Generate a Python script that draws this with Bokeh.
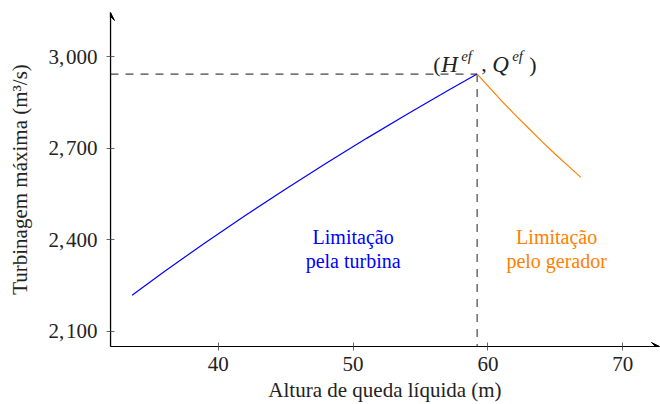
from bokeh.plotting import figure
from bokeh.models import (Label, Arrow, VeeHead, FixedTicker, Range1d)
from bokeh.embed import file_html
from bokeh.resources import INLINE

# Turbine-limited branch: maximum discharge vs net head
head_turbine = [33.6, 36.0, 39.0, 42.0, 45.0, 48.0, 51.0, 54.0, 57.0, 59.2]
flow_turbine = [2218, 2296, 2390, 2480, 2567, 2651, 2733, 2812, 2889, 2944]

# Generator-limited branch
head_generator = [59.2, 61.0, 62.0, 63.0, 64.0, 65.0, 66.0, 66.9]
flow_generator = [2944, 2857, 2811, 2767, 2723, 2681, 2641, 2605]

# Effective (design) point
h_ef = 59.2
q_ef = 2944

x_ticks = [40, 50, 60, 70]
y_ticks = [2100, 2400, 2700, 3000]

x_min, x_max = 32.0, 72.73
y_min, y_max = 2050.0, 3146.0

SERIF = "Liberation Serif"
BLUE = "#0000ff"
ORANGE = "#ff8000"
INK = "#222222"

p = figure(width=660, height=404, output_backend="svg", toolbar_location=None,
           x_range=Range1d(x_min, x_max), y_range=Range1d(y_min, y_max),
           min_border_left=110, min_border_right=1, min_border_top=12,
           min_border_bottom=58)
p.outline_line_color = None
p.grid.visible = False
p.background_fill_color = "white"
p.border_fill_color = "white"

# axes
p.xaxis.ticker = FixedTicker(ticks=x_ticks)
p.yaxis.ticker = FixedTicker(ticks=y_ticks)
# thousands separator followed by a hair space, as in math-mode numbers
p.yaxis.major_label_overrides = {t: f"{t:,}".replace(",", ",\u200a") for t in y_ticks}
for ax in (p.xaxis[0], p.yaxis[0]):
    ax.axis_line_color = "black"
    ax.axis_line_width = 1.2
    ax.major_tick_line_color = "#666666"
    ax.major_tick_in = 4
    ax.major_tick_out = 4
    ax.minor_tick_line_color = None
    ax.major_label_text_font = SERIF
    ax.major_label_text_font_size = "21px"
    ax.major_label_text_color = INK
    ax.axis_label_text_font = SERIF
    ax.axis_label_text_font_size = "21px"
    ax.axis_label_text_font_style = "normal"
    ax.axis_label_text_color = INK
p.xaxis.major_label_standoff = 6
p.yaxis.major_label_standoff = 9
p.xaxis.axis_label = "Altura de queda líquida (m)"
p.xaxis.axis_label_standoff = 4
p.yaxis.axis_label = "Turbinagem máxima (m³/s)"
p.yaxis.axis_label_standoff = 13

# axis arrow heads
p.add_layout(Arrow(end=VeeHead(size=8, fill_color="black", line_color="black"),
                   x_start=x_min, y_start=y_min, x_end=x_max, y_end=y_min,
                   line_color="black", line_width=1.2))
p.add_layout(Arrow(end=VeeHead(size=8, fill_color="black", line_color="black"),
                   x_start=x_min, y_start=y_min, x_end=x_min, y_end=y_max,
                   line_color="black", line_width=1.2))

# guide lines to the effective point
p.line([x_min, h_ef], [q_ef, q_ef], line_color="#444444", line_width=1.2,
       line_dash="8 7")
p.line([h_ef, h_ef], [q_ef, y_min], line_color="#444444", line_width=1.2,
       line_dash="8 7")

# curves
p.line(head_turbine, flow_turbine, line_color=BLUE, line_width=1.2)
p.line(head_generator, flow_generator, line_color=ORANGE, line_width=1.2)

# region captions
for txt, dy in (("Limitação", 14), ("pela turbina", -10)):
    p.add_layout(Label(x=50.0, y=2364, y_offset=dy, text=txt, text_font=SERIF,
                       text_font_size="20px", text_align="center",
                       text_baseline="middle", text_color=BLUE))
for txt, dy in (("Limitação", 14), ("pelo gerador", -10)):
    p.add_layout(Label(x=65.1, y=2364, y_offset=dy, text=txt, text_font=SERIF,
                       text_font_size="20px", text_align="center",
                       text_baseline="middle", text_color=ORANGE))

# point label (H^ef, Q^ef)
pieces = [
    ("(", -44, 10, "22px", "normal"),
    ("H", -36, 10, "23px", "italic"),
    ("ef", -16, 18, "15px", "italic"),
    (",", 4, 10, "22px", "normal"),
    ("Q", 15, 10, "23px", "italic"),
    ("ef", 35, 18, "15px", "italic"),
    (")", 52, 10, "22px", "normal"),
]
for txt, dx, dy, size, style in pieces:
    p.add_layout(Label(x=h_ef, y=q_ef, x_offset=dx, y_offset=dy, text=txt,
                       text_font=SERIF, text_font_size=size,
                       text_font_style=style, text_align="left",
                       text_baseline="alphabetic", text_color=INK))

open("out.html", "w").write(file_html(p, INLINE))
